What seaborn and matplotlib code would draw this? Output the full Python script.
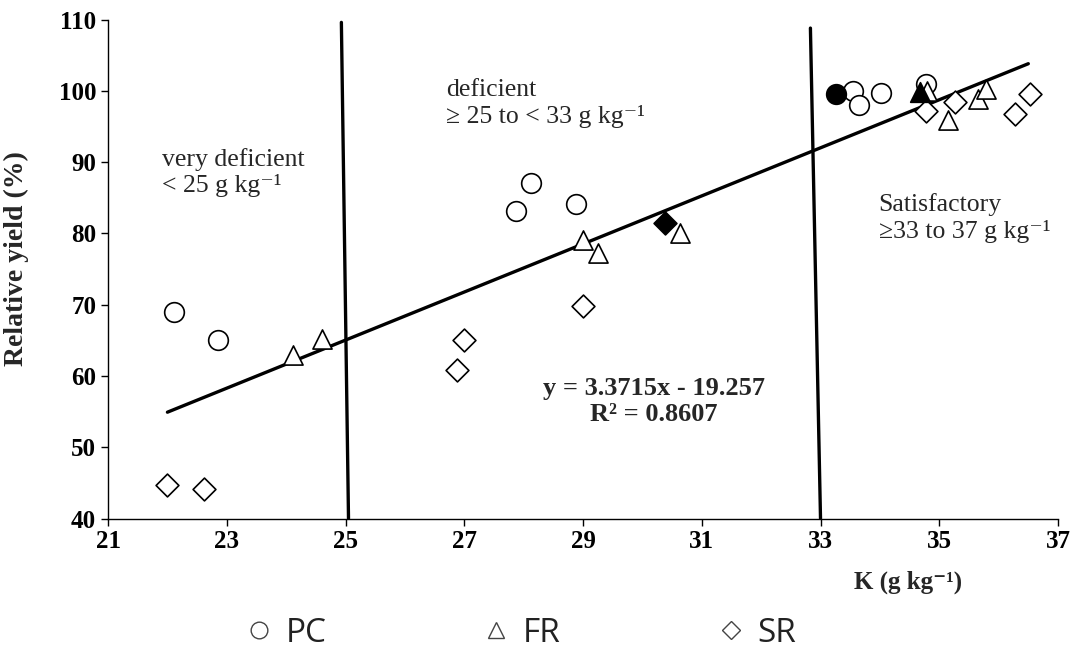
import numpy as np
import pandas as pd
import seaborn as sns
import matplotlib.pyplot as plt
from matplotlib.lines import Line2D

# K content (g/kg) and relative yield (%) per method
pc_k = [22.11, 22.86, 27.87, 28.13, 28.88, 33.54, 33.65, 34.02, 34.78]
pc_ry = [69.0, 65.1, 83.2, 87.0, 84.1, 100.0, 98.0, 99.7, 100.9]
fr_k = [24.11, 24.61, 29.00, 29.26, 30.64, 34.80, 35.14, 35.65, 35.79]
fr_ry = [62.9, 65.2, 79.1, 77.2, 80.0, 100.0, 95.9, 98.9, 100.2]
sr_k = [21.99, 22.61, 26.87, 26.99, 29.00, 34.77, 35.27, 36.27, 36.53]
sr_ry = [44.7, 44.2, 60.8, 65.1, 69.8, 97.1, 98.5, 96.8, 99.6]
# filled symbols
mean_k = [33.26, 34.68, 30.38]
mean_ry = [99.6, 99.9, 81.4]
mean_marker = ["o", "^", "D"]

# fitted line y = 3.3715x - 19.257
slope, intercept = 3.3715, -19.257
fit_k = [22.0, 36.5]

# class limits (hand drawn, slightly tilted)
lim1_k = [24.93, 25.05]
lim1_ry = [109.6, 40]
lim2_k = [32.83, 33.0]
lim2_ry = [108.8, 40]

sns.set_style("ticks")
plt.rcParams["font.family"] = ["Liberation Serif", "DejaVu Serif"]

fig = plt.figure(figsize=(10.74, 6.51), dpi=100)
ax = fig.add_axes([0.1006, 0.2035, 0.8845, 0.7665])

kw = dict(color="white", edgecolor="black", linewidth=1.2, legend=False, ax=ax, zorder=3)
sns.scatterplot(x=pc_k, y=pc_ry, marker="o", s=200, **kw)
sns.scatterplot(x=fr_k, y=fr_ry, marker="^", s=190, **kw)
sns.scatterplot(x=sr_k, y=sr_ry, marker="D", s=135, **kw)
for k, ry, m in zip(mean_k, mean_ry, mean_marker):
    sns.scatterplot(x=[k], y=[ry], marker=m, s=200 if m != "D" else 135,
                    color="black", edgecolor="black", linewidth=1.2,
                    legend=False, ax=ax, zorder=4)

fit = pd.DataFrame({"k": fit_k})
fit["ry"] = slope * fit["k"] + intercept
sns.lineplot(data=fit, x="k", y="ry", color="black", linewidth=2.4, ax=ax, zorder=2)
ax.plot(lim1_k, lim1_ry, color="black", linewidth=2.4, zorder=2)
ax.plot(lim2_k, lim2_ry, color="black", linewidth=2.4, zorder=2)

ax.set_xlim(21, 37)
ax.set_ylim(40, 110)
ax.set_xticks(np.arange(21, 38, 2))
ax.set_yticks(np.arange(40, 111, 10))
sns.despine(ax=ax)
for sp in ["left", "bottom"]:
    ax.spines[sp].set_linewidth(1.0)
    ax.spines[sp].set_color("black")
ax.tick_params(axis="both", direction="out", length=5, width=1.0, colors="black",
               labelsize=18)
for lab in ax.get_xticklabels() + ax.get_yticklabels():
    lab.set_fontweight("bold")

ax.set_ylabel("Relative yield (%)", fontsize=20, fontweight="bold")
ax.yaxis.set_label_coords(-0.083, 0.52)
ax.set_xlabel("K (g kg⁻¹)", fontsize=18, fontweight="bold")
ax.xaxis.set_label_coords(0.842, -0.105)

tfs = 18.5
ax.text(21.91, 92.0, "very deficient\n< 25 g kg⁻¹", fontsize=tfs,
        va="top", ha="left", linespacing=1.2)
ax.text(26.70, 101.6, "deficient\n≥ 25 to < 33 g kg⁻¹", fontsize=tfs,
        va="top", ha="left", linespacing=1.2)
ax.text(33.98, 85.6, "Satisfactory\n≥33 to 37 g kg⁻¹", fontsize=tfs,
        va="top", ha="left", linespacing=1.2)
ax.text(30.19, 56.4, "y = 3.3715x - 19.257\nR² = 0.8607", fontsize=19,
        fontweight="bold", ha="center", va="center", multialignment="center",
        linespacing=1.15)

handles = [
    Line2D([], [], ls="none", marker="o", ms=12, mfc="white", mec="#444444", mew=1.0, label="PC"),
    Line2D([], [], ls="none", marker="^", ms=12, mfc="white", mec="#444444", mew=1.0, label="FR"),
    Line2D([], [], ls="none", marker="D", ms=9, mfc="white", mec="#444444", mew=1.0, label="SR"),
]
fig.legend(handles=handles, loc="center", bbox_to_anchor=(519 / 1074, 1 - 633 / 651),
           ncol=3, frameon=False, handlelength=1.0, handletextpad=0.3,
           columnspacing=4.6, prop={"family": "Open Sans", "size": 24},
           labelcolor="#222222")

fig.savefig("out.png", dpi=100)
